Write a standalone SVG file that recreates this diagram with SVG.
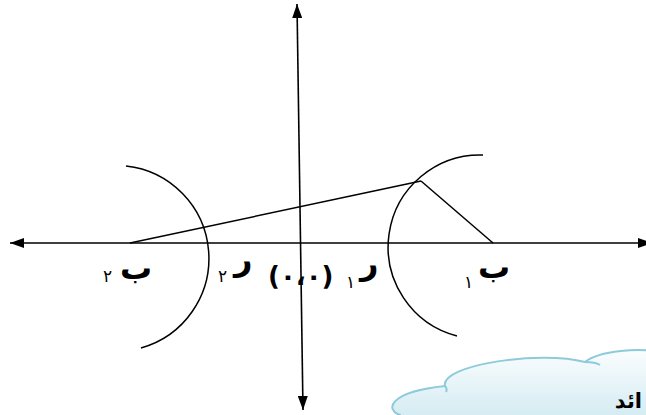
<svg xmlns="http://www.w3.org/2000/svg" width="646" height="415" viewBox="0 0 646 415">
<style>
.ln{stroke:#000;stroke-width:1.5;fill:none}
.ax{stroke:#000;stroke-width:1.6;fill:none;marker-start:url(#ah);marker-end:url(#ah)}
.ar{font-family:"DejaVu Sans",sans-serif;font-weight:bold;fill:#000}
.big{font-size:32px}
.par{font-size:26px;letter-spacing:1px}
.sub{font-size:17px;font-weight:normal}
</style>
<defs>
<marker id="ah" viewBox="0 0 14 10" refX="14" refY="5" markerWidth="14" markerHeight="10" markerUnits="userSpaceOnUse" orient="auto-start-reverse">
<path d="M0,0 L14,5 L0,10 z" fill="#000"/>
</marker>
<linearGradient id="cg" x1="0" y1="0" x2="0" y2="1">
<stop offset="0" stop-color="#fafdfe"/>
<stop offset="1" stop-color="#cde8f0"/>
</linearGradient>
</defs>
<rect width="646" height="415" fill="#fff"/>
<g id="connectors">
<line class="ax" x1="10" y1="243" x2="652" y2="243"/>
<line class="ax" x1="297" y1="4" x2="303" y2="410"/>
<path class="ln" d="M126,166 A93,93 0 0 1 141,348"/>
<path class="ln" d="M483,155 A92,92 0 0 0 457,336"/>
<line class="ln" x1="130" y1="243" x2="421" y2="181"/>
<line class="ln" x1="421" y1="181" x2="493" y2="243"/>
</g>
<g id="labels">
<text class="ar big" x="120" y="279">ب</text>
<text class="ar sub" x="103" y="282">٢</text>
<text class="ar big" x="234" y="270">ر</text>
<text class="ar sub" x="218" y="282">٢</text>
<text class="ar par" x="268" y="285">(٠،٠)</text>
<text class="ar big" x="360" y="274">ر</text>
<text class="ar sub" x="346" y="288">١</text>
<text class="ar big" x="478" y="278">ب</text>
<text class="ar sub" x="464" y="288">١</text>
</g>
<g id="cloud">
<path d="M404,418 C389,413 392,395 448,390 C443,369 543,354 588,366 C603,354 643,352 663,356 L663,430 L404,430 Z" fill="#9a9a9a" opacity="0.5"/>
<path d="M400,415 C385,410 388,392 445,386 C440,365 540,350 585,362 C600,350 640,348 660,352 L660,430 L400,430 Z" fill="url(#cg)" stroke="#8dcbda" stroke-width="2"/>
<path d="M445,386 C447,388 447,390 446,392 M585,362 C592,362 597,363 600,365" fill="none" stroke="#8dcbda" stroke-width="2"/>
<text class="ar" x="642" y="408" font-size="21" text-anchor="end">ائد</text>
</g>
</svg>
